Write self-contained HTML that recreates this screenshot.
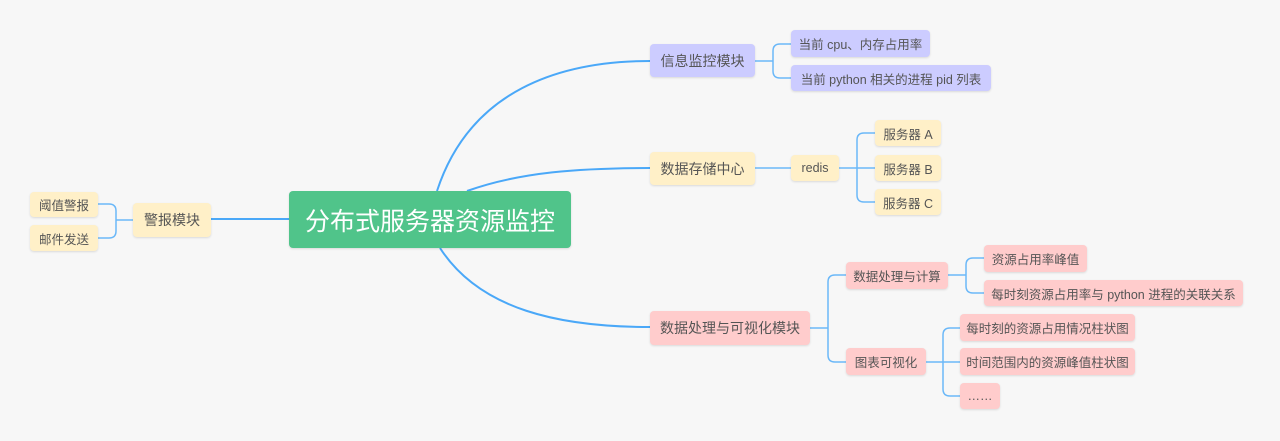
<!DOCTYPE html>
<html><head><meta charset="utf-8"><style>
body{margin:0;width:1280px;height:441px;background:#f7f7f7;position:relative;overflow:hidden;font-family:"Liberation Sans","Noto Sans CJK SC",sans-serif;}
.n{position:absolute;box-sizing:border-box;border-radius:4px;color:#555;display:flex;align-items:center;justify-content:center;white-space:nowrap;box-shadow:0 1px 2px rgba(0,0,0,0.12);}
.p{background:#ccccff}.y{background:#fff0c8}.r{background:#ffcccc}
.s{font-size:12.5px}.m{font-size:14px}
svg{position:absolute;left:0;top:0}
</style></head><body>
<svg width="1280" height="441" fill="none" stroke="#4aa8f8">
<g stroke-width="2">
<path d="M437 191 C470 90 560 61 650 61"/>
<path d="M467 191 C520 172 580 168 650 168"/>
<path d="M440 248 C480 310 560 327 650 327"/>
<path d="M211 219 L289 219"/>
</g>
<g stroke-width="1.5" stroke="#6bb8f8">
<path d="M755 61 H773 M791 44 H780 Q773 44 773 51 V71 Q773 78 780 78 H791"/>
<path d="M755 168 H791 M839 168 H875 M875 133 H864 Q857 133 857 140 V195 Q857 202 864 202 H875"/>
<path d="M810 328 H828 M846 275 H835 Q828 275 828 282 V355 Q828 362 835 362 H846"/>
<path d="M948 275 H966 M984 258 H973 Q966 258 966 265 V286 Q966 293 973 293 H984"/>
<path d="M926 362 H960 M960 328 H950 Q943 328 943 335 V389 Q943 396 950 396 H960"/>
<path d="M133 220 H116 M98 204 H109 Q116 204 116 211 V231 Q116 238 109 238 H98"/>
</g>
</svg>
<div class="n" style="left:289px;top:191px;width:282px;height:57px;background:#50c48a;color:#fff;font-size:25px;">分布式服务器资源监控</div>
<div class="n y m" style="left:133px;top:203px;width:78px;height:34px;">警报模块</div>
<div class="n y s" style="left:30px;top:192px;width:68px;height:25px;">阈值警报</div>
<div class="n y s" style="left:30px;top:225px;width:68px;height:26px;">邮件发送</div>
<div class="n p m" style="left:650px;top:44px;width:105px;height:33px;">信息监控模块</div>
<div class="n p s" style="left:791px;top:30px;width:139px;height:27px;">当前 cpu、内存占用率</div>
<div class="n p s" style="left:791px;top:65px;width:200px;height:26px;">当前 python 相关的进程 pid 列表</div>
<div class="n y m" style="left:650px;top:152px;width:105px;height:33px;">数据存储中心</div>
<div class="n y s" style="left:791px;top:155px;width:48px;height:26px;">redis</div>
<div class="n y s" style="left:875px;top:120px;width:66px;height:26px;">服务器 A</div>
<div class="n y s" style="left:875px;top:155px;width:66px;height:26px;">服务器 B</div>
<div class="n y s" style="left:875px;top:189px;width:66px;height:26px;">服务器 C</div>
<div class="n r m" style="left:650px;top:311px;width:160px;height:34px;">数据处理与可视化模块</div>
<div class="n r s" style="left:846px;top:262px;width:102px;height:27px;">数据处理与计算</div>
<div class="n r s" style="left:846px;top:348px;width:80px;height:27px;">图表可视化</div>
<div class="n r s" style="left:984px;top:245px;width:103px;height:27px;">资源占用率峰值</div>
<div class="n r s" style="left:984px;top:280px;width:259px;height:26px;">每时刻资源占用率与 python 进程的关联关系</div>
<div class="n r s" style="left:960px;top:314px;width:175px;height:27px;">每时刻的资源占用情况柱状图</div>
<div class="n r s" style="left:960px;top:348px;width:175px;height:27px;">时间范围内的资源峰值柱状图</div>
<div class="n r s" style="left:960px;top:383px;width:40px;height:26px;">……</div>
</body></html>
